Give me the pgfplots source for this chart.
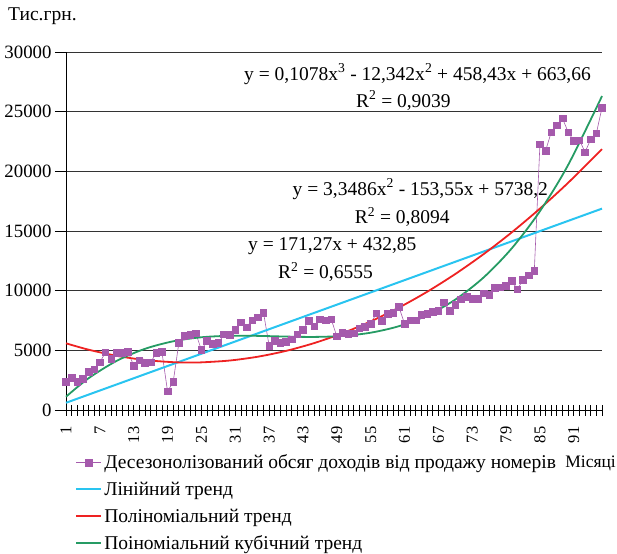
\documentclass[border=0pt]{standalone}
\usepackage{fontspec}
\setmainfont{Liberation Serif}
\usepackage{pgfplots}
\pgfplotsset{compat=1.18}

\definecolor{dataviolet}{RGB}{165,90,172}
\definecolor{linblue}{RGB}{41,196,240}
\definecolor{polyred}{RGB}{238,34,34}
\definecolor{cubgreen}{RGB}{38,155,100}

\pgfplotstableread{
m val
1 2360
2 2720
3 2360
4 2610
5 3190
6 3420
7 4000
8 4830
9 4280
10 4780
11 4780
12 4860
13 3720
14 4170
15 3940
16 4000
17 4780
18 4860
19 1560
20 2360
21 5610
22 6220
23 6280
24 6440
25 5030
26 5780
27 5530
28 5610
29 6330
30 6290
31 6700
32 7360
33 6940
34 7530
35 7780
36 8170
37 5390
38 5780
39 5610
40 5720
41 5940
42 6330
43 6700
44 7480
45 7030
46 7600
47 7500
48 7610
49 6180
50 6450
51 6390
52 6420
53 6830
54 6970
55 7200
56 8120
57 7470
58 8040
59 8140
60 8650
61 7230
62 7500
63 7500
64 7970
65 8060
66 8250
67 8330
68 9030
69 8330
70 8810
71 9280
72 9500
73 9310
74 9310
75 9780
76 9640
77 10220
78 10280
79 10420
80 10830
81 10110
82 10920
83 11300
84 11670
85 22280
86 21720
87 23280
88 23860
89 24440
90 23280
91 22550
92 22610
93 21610
94 22690
95 23190
96 25330
}\income

% trend values
\pgfplotstableread{
m lin
1 604
96 16875
}\lintrend

\pgfplotstableread{
m quad
1 5588
5 5054
10 4538
15 4188
20 4007
23 3978
25 3992
30 4145
35 4466
40 4954
45 5609
50 6432
55 7423
60 8580
65 9905
70 11398
75 13058
80 14885
85 16880
90 19042
96 21858
}\quadtrend

\pgfplotstableread{
m cub
1 1110
5 2661
10 4122
15 5127
20 5758
25 6095
30 6219
35 6212
40 6153
45 6124
50 6205
55 6478
60 7023
65 7921
70 9253
75 11100
80 13543
85 16662
90 20538
96 26303
}\cubtrend

\begin{document}
\begin{tikzpicture}[font=\fontsize{19.5}{22}\selectfont]
\path[use as bounding box] (-66pt,-143pt) rectangle (551pt,410pt);
\begin{axis}[
    scale only axis,
    width=536pt, height=358pt,
    xmin=1, xmax=96, ymin=0, ymax=30000,
    axis x line*=bottom, axis y line*=left,
    axis line style={black, line width=0.8pt},
    xtick={1,7,...,91},
    minor xtick={1,...,96},
    ytick={0,5000,...,30000},
    tick align=outside,
    major tick length=11pt, minor tick length=11pt,
    tick style={black, line width=0.8pt},
    x tick style={yshift=5.5pt},
    ymajorgrids,
    grid style={black!80, line width=0.8pt},
    scaled y ticks=false,
    /pgf/number format/.cd, 1000 sep={}, assume math mode=true,
    /pgfplots/.cd,
    yticklabel style={font=\fontsize{18.8}{20}\selectfont},
    xticklabel style={rotate=90, anchor=east, font=\fontsize{16.5}{20}\selectfont},
    xticklabel shift=2pt,
    clip=false,
    legend cell align=left,
    legend style={at={(axis description cs:0.017,-0.119)}, anchor=north west,
      draw=none, fill=none, row sep=7.8pt, inner sep=0pt,
      font=\fontsize{19.5}{22}\selectfont},
    legend image code/.code={\draw[mark repeat=2, mark phase=2]
      plot coordinates {(0pt,0pt) (12.5pt,0pt) (25pt,0pt)};},
]
\addplot[dataviolet, line width=0.6pt, mark=square*, mark size=3.3pt,
  mark options={solid, fill=dataviolet}] table[x=m, y=val] {\income};
\addlegendentry{Десезонолізований обсяг доходів від продажу номерів}
\addplot[linblue, line width=2pt] table[x=m, y=lin] {\lintrend};
\addlegendentry{Лінійний тренд}
\addplot[polyred, line width=1.8pt, smooth] table[x=m, y=quad] {\quadtrend};
\addlegendentry{Поліноміальний тренд}
\addplot[cubgreen, line width=1.8pt, smooth] table[x=m, y=cub] {\cubtrend};
\addlegendentry{Поіноміальний кубічний тренд}

\node at (axis cs:63.3,28170) {y = 0,1078x\textsuperscript{3} - 12,342x\textsuperscript{2} + 458,43x + 663,66};
\node at (axis cs:60.8,25920) {R\textsuperscript{2} = 0,9039};
\node at (axis cs:63.8,18500) {y = 3,3486x\textsuperscript{2} - 153,55x + 5738,2};
\node at (axis cs:60.6,16170) {R\textsuperscript{2} = 0,8094};
\node at (axis cs:48.2,13750) {y = 171,27x + 432,85};
\node at (axis cs:47.0,11580) {R\textsuperscript{2} = 0,6555};
\end{axis}
\node[anchor=west, inner sep=0pt] at (-58pt,394pt) {Тис.грн.};
\node[anchor=east, inner sep=0pt, font=\fontsize{17.5}{20}\selectfont] at (550pt,-53pt) {Місяці};
\end{tikzpicture}
\end{document}
